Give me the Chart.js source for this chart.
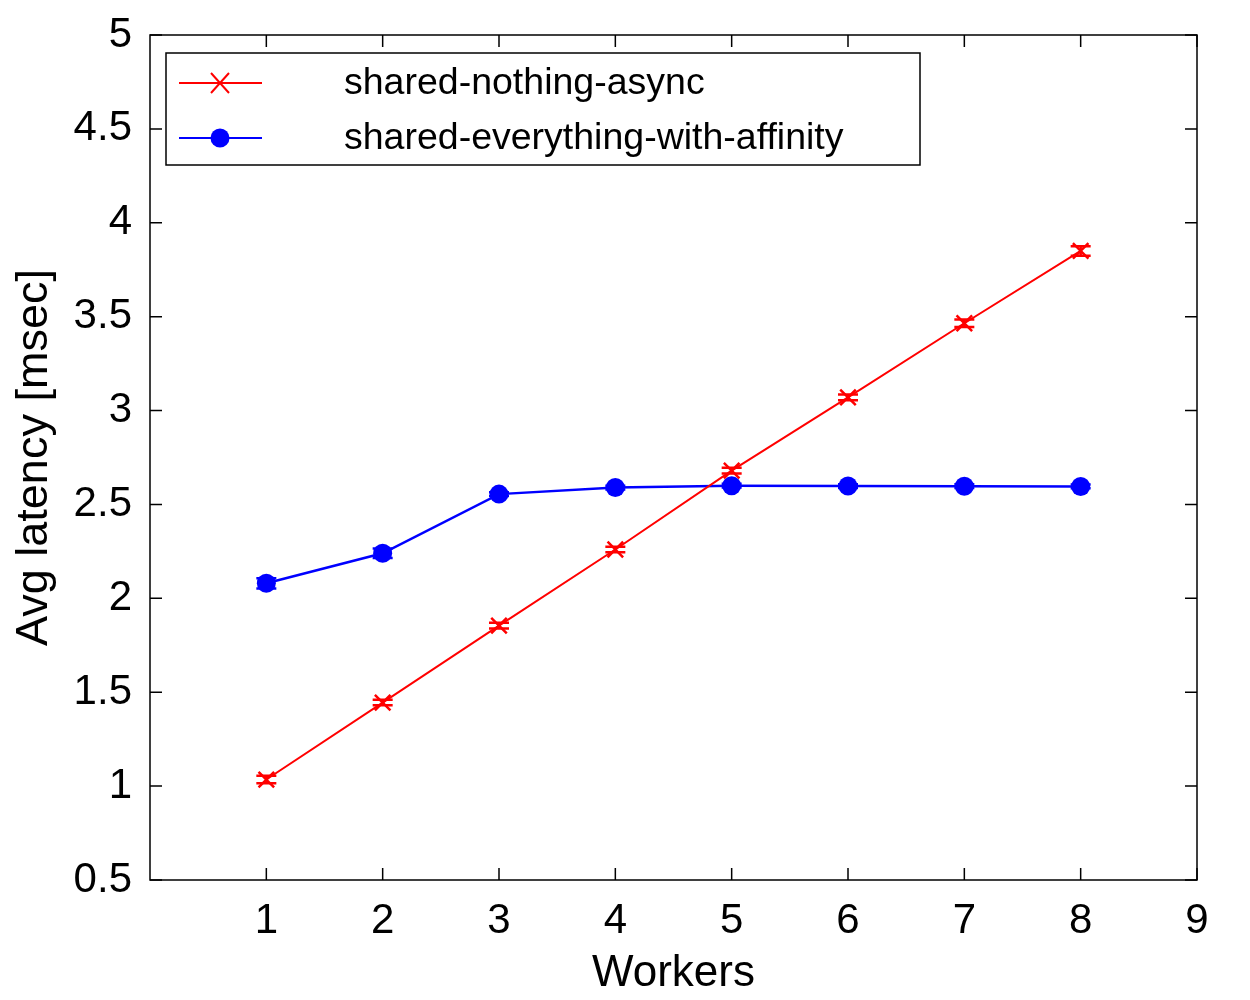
<!DOCTYPE html>
<html>
<head>
<meta charset="utf-8">
<script src="https://cdn.jsdelivr.net/npm/chart.js@4.4.0/dist/chart.umd.min.js"></script>
<style>
  html, body { margin: 0; padding: 0; background: #fff; }
  #wrap { width: 1250px; height: 1000px; }
</style>
</head>
<body>
<div id="wrap"><canvas id="chart" width="1250" height="1000"></canvas></div>
<script>
// data
const workers = [1, 2, 3, 4, 5, 6, 7, 8];
const nothingAsync = [1.035, 1.445, 1.855, 2.26, 2.68, 3.07, 3.465, 3.85];
const nothingAsyncErr = [0.02, 0.015, 0.015, 0.015, 0.015, 0.015, 0.02, 0.025];
const everythingAffinity = [2.08, 2.24, 2.555, 2.59, 2.60, 2.598, 2.597, 2.596];
const everythingAffinityErr = [0.027, 0.025, 0.01, 0.01, 0.01, 0.01, 0.01, 0.01];
const yTicks = [0.5, 1, 1.5, 2, 2.5, 3, 3.5, 4, 4.5, 5];
const xTicks = [1, 2, 3, 4, 5, 6, 7, 8, 9];

const FONT = "'Liberation Sans', Arial, sans-serif";

function pts(xs, ys) {
    return xs.map((x, i) => ({x: x, y: ys[i]}));
}

// frame, mirrored inward ticks, error bars and legend, gnuplot style
const gnuplotPlugin = {
    id: 'gnuplot',
    beforeDatasetsDraw(chart) {
        const ctx = chart.ctx;
        const a = chart.chartArea;
        const xs = chart.scales.x, ys = chart.scales.y;
        ctx.save();
        ctx.strokeStyle = '#000';
        ctx.lineWidth = 1.5;
        ctx.strokeRect(a.left, a.top, a.right - a.left, a.bottom - a.top);
        const t = 12;
        ctx.beginPath();
        xTicks.forEach(v => {
            const px = xs.getPixelForValue(v);
            ctx.moveTo(px, a.bottom); ctx.lineTo(px, a.bottom - t);
            ctx.moveTo(px, a.top); ctx.lineTo(px, a.top + t);
        });
        yTicks.forEach(v => {
            const py = ys.getPixelForValue(v);
            ctx.moveTo(a.left, py); ctx.lineTo(a.left + t, py);
            ctx.moveTo(a.right, py); ctx.lineTo(a.right - t, py);
        });
        ctx.stroke();
        ctx.restore();
    },
    afterDatasetsDraw(chart) {
        // error bars on top of the markers
        const ctx = chart.ctx;
        const xs = chart.scales.x, ys = chart.scales.y;
        const errs = [nothingAsyncErr, everythingAffinityErr];
        ctx.save();
        chart.data.datasets.forEach((ds, di) => {
            ctx.strokeStyle = ds.borderColor;
            ctx.lineWidth = 2.5;
            ctx.beginPath();
            ds.data.forEach((p, i) => {
                const px = xs.getPixelForValue(p.x);
                const top = ys.getPixelForValue(p.y + errs[di][i]);
                const bot = ys.getPixelForValue(p.y - errs[di][i]);
                ctx.moveTo(px, top); ctx.lineTo(px, bot);
                ctx.moveTo(px - 10, top); ctx.lineTo(px + 10, top);
                ctx.moveTo(px - 10, bot); ctx.lineTo(px + 10, bot);
            });
            ctx.stroke();
        });
        ctx.restore();
    },
    afterDraw(chart) {
        const ctx = chart.ctx;
        ctx.save();
        // legend box
        ctx.fillStyle = '#fff';
        ctx.fillRect(166, 53, 754, 112);
        ctx.strokeStyle = '#000';
        ctx.lineWidth = 1.5;
        ctx.strokeRect(166, 53, 754, 112);
        const rows = [83, 138];
        chart.data.datasets.forEach((ds, i) => {
            const y = rows[i];
            ctx.strokeStyle = ds.borderColor;
            ctx.lineWidth = 2;
            ctx.beginPath();
            ctx.moveTo(179, y); ctx.lineTo(262, y);
            ctx.stroke();
            if (ds.pointStyle === 'crossRot') {
                ctx.lineWidth = 2;
                ctx.beginPath();
                ctx.moveTo(211, y - 10); ctx.lineTo(229, y + 10);
                ctx.moveTo(211, y + 10); ctx.lineTo(229, y - 10);
                ctx.stroke();
            } else {
                ctx.fillStyle = ds.borderColor;
                ctx.beginPath();
                ctx.arc(220, y, 9.5, 0, Math.PI * 2);
                ctx.fill();
            }
            ctx.fillStyle = '#000';
            ctx.font = '37.5px ' + FONT;
            ctx.textBaseline = 'middle';
            ctx.textAlign = 'left';
            ctx.fillText(ds.label, 344, y + 1);
        });
        ctx.restore();
    }
};

new Chart(document.getElementById('chart'), {
    type: 'line',
    data: {
        datasets: [
            {
                label: 'shared-nothing-async',
                data: pts(workers, nothingAsync),
                borderColor: '#ff0000',
                backgroundColor: '#ff0000',
                borderWidth: 2,
                pointStyle: 'crossRot',
                pointRadius: 11,
                pointBorderWidth: 2.5,
                tension: 0
            },
            {
                label: 'shared-everything-with-affinity',
                data: pts(workers, everythingAffinity),
                borderColor: '#0000ff',
                backgroundColor: '#0000ff',
                borderWidth: 2.5,
                pointStyle: 'circle',
                pointRadius: 9.5,
                pointBorderWidth: 0,
                tension: 0
            }
        ]
    },
    options: {
        responsive: false,
        animation: false,
        events: [],
        layout: { padding: { top: 35, right: 53, left: 8, bottom: 0 } },
        plugins: { legend: { display: false }, tooltip: { enabled: false } },
        scales: {
            x: {
                type: 'linear',
                min: 0, max: 9,
                afterBuildTicks: s => { s.ticks = [0].concat(xTicks).map(v => ({value: v})); },
                afterFit: s => { s.height = 120; s.paddingLeft = 0; s.paddingRight = 0; },
                grid: { display: false, drawTicks: false },
                border: { display: false },
                ticks: {
                    color: '#000',
                    font: { family: FONT, size: 42 },
                    padding: 16,
                    maxRotation: 0,
                    callback: v => v === 0 ? '' : String(v)
                },
                title: {
                    display: true, text: 'Workers', color: '#000',
                    font: { family: FONT, size: 44 },
                    padding: { top: 0, bottom: 0 }
                }
            },
            y: {
                type: 'linear',
                min: 0.5, max: 5,
                afterBuildTicks: s => { s.ticks = yTicks.map(v => ({value: v})); },
                afterFit: s => { s.width = 142; s.paddingTop = 0; s.paddingBottom = 0; },
                grid: { display: false, drawTicks: false },
                border: { display: false },
                ticks: {
                    color: '#000',
                    font: { family: FONT, size: 42 },
                    padding: 18,
                    callback: v => String(v)
                },
                title: {
                    display: true, text: 'Avg latency [msec]', color: '#000',
                    font: { family: FONT, size: 45 },
                    padding: { top: 0, bottom: 0 }
                }
            }
        }
    },
    plugins: [gnuplotPlugin]
});
</script>
</body>
</html>
